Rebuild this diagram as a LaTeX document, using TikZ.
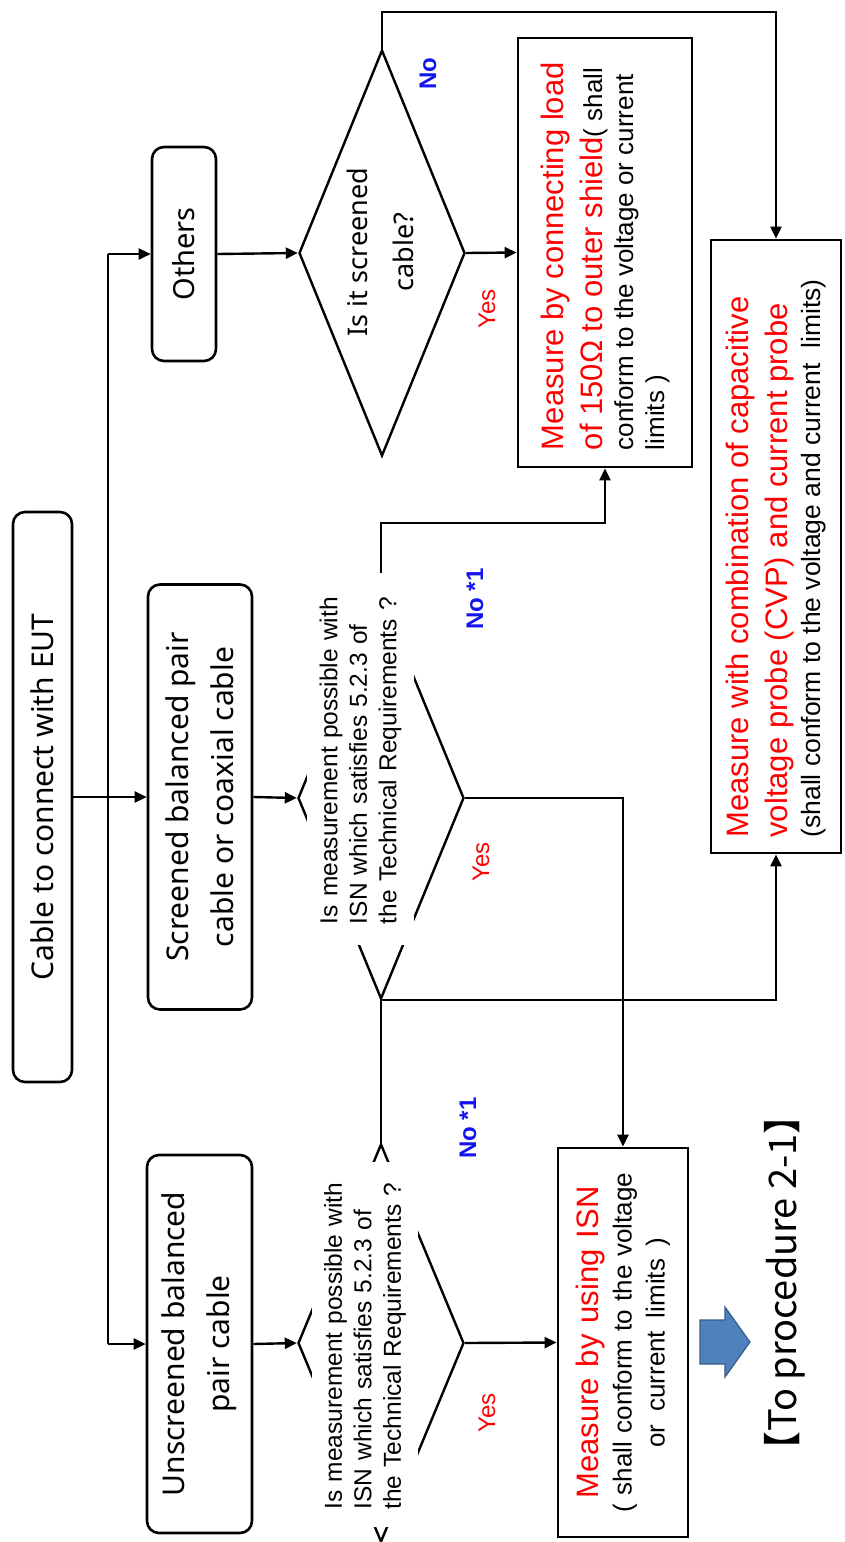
\documentclass[tikz,border=0pt]{standalone}
\usepackage{fontspec}
\setmainfont{Liberation Sans}
\newfontfamily\boxfont{Noto Sans}
\newfontfamily\cjkfont{Noto Sans CJK JP}
\usetikzlibrary{arrows.meta,shapes.geometric}
\definecolor{lblred}{RGB}{255,0,0}
\definecolor{lblblue}{RGB}{20,20,240}
\definecolor{arrowfill}{RGB}{79,129,189}
\definecolor{arrowedge}{RGB}{56,93,138}
% let interword spaces follow the font in force
\newcommand{\natspaces}{\spaceskip=0pt\xspaceskip=0pt\relax}

\begin{document}
\begin{tikzpicture}[x=1pt,y=-1pt,
  conn/.style={line width=2.4pt,-{Triangle[length=12pt,width=11pt]}},
  wire/.style={line width=2.4pt},
  rbox/.style={draw,line width=2.6pt,rounded corners=12pt,rotate=90,align=center,
    inner sep=0pt,font=\boxfont\fontsize{30}{45}\selectfont},
  sbox/.style={draw,line width=2.8pt,rotate=90,inner sep=0pt,font=\fontsize{26}{33}\selectfont},
  dia/.style={draw,diamond,line width=2.4pt,inner sep=0pt},
  quest/.style={fill=white,rotate=90,inner sep=0pt,align=left,
    font=\fontsize{24.5}{29.5}\selectfont},
  yeslbl/.style={rotate=90,text=lblred,font=\fontsize{24}{28}\selectfont},
  nolbl/.style={rotate=90,text=lblblue,font=\bfseries\fontsize{24}{28}\selectfont},
]
\fill[white] (0,0) rectangle (845,1542);
\useasboundingbox (0,0) rectangle (845,1542);

% cable categories
\node[rbox,minimum width=570pt,minimum height=59pt] (cable) at (42.5,797) {Cable to connect with EUT};
\node[rbox,minimum width=214pt,minimum height=64pt,font=\boxfont\fontsize{29}{45}\selectfont] (others) at (184,254) {Others};
\node[rbox,minimum width=425pt,minimum height=104pt] (screened) at (200,797) {Screened balanced pair\\cable or coaxial cable};
\node[rbox,minimum width=378pt,minimum height=105pt] (unscr) at (199.5,1344) {Unscreened balanced\\pair cable};

% decisions
\node[dia,minimum width=166pt,minimum height=406pt] (d1) at (382,253) {};
\node[dia,minimum width=166pt,minimum height=402pt] (d2) at (381,798) {};
\node[dia,minimum width=166pt,minimum height=398pt] (d3) at (381,1343) {};
\node[rotate=90,align=center,font=\boxfont\fontsize{27}{46}\selectfont] (d1q) at (380,252) {Is it screened\\cable?};

% measurement boxes
\node[sbox,minimum width=429pt,minimum height=174pt,text width=395pt,align=left] (m150) at (605,252.5)
 {\natspaces{\color{lblred}\fontsize{31}{39}\selectfont Measure by connecting load\par
   of 150Ω to outer shield{\color{black}\fontsize{26}{31}\selectfont( shall}\par}%
  {\fontsize{26}{31}\selectfont conform to the voltage or current\par limits )\par}\vspace*{18pt}};
\node[sbox,minimum width=613pt,minimum height=130pt,text width=582pt,align=left] (cvp) at (776,546.5)
 {\natspaces{\color{lblred}\fontsize{31}{39}\selectfont Measure with combination of capacitive\par
   voltage probe (CVP) and current probe\par}%
  {\fontsize{26.5}{33}\selectfont (shall conform to the voltage and current\ \ limits)\par}};
\node[sbox,minimum width=389pt,minimum height=130pt,text width=370pt,align=center] (isn) at (623,1342.5)
 {\natspaces{\color{lblred}\fontsize{31}{39}\selectfont Measure by using ISN\par}%
  {\fontsize{26}{33}\selectfont ( shall conform to the voltage\par or current\ limits )\par}};

% connectors
\coordinate (trunkTop) at (108,254);
\coordinate (trunkBot) at (108,1344);
\coordinate (railTop) at (0,12);
\coordinate (railMid) at (0,523);
\draw[wire] (trunkTop) -- (trunkBot);
\draw[conn] (trunkTop) -- (others.north);
\draw[conn] (trunkBot) -- (unscr.north);
\draw[conn] (cable.south) -- (screened.north);
\draw[conn] (others.south) -- (d1.west);
\draw[conn] (screened.south) -- (d2.west);
\draw[conn] (unscr.south) -- (d3.west);
\draw[conn] (d1.east) -- (m150.north);
\draw[conn] (d1.north) |- (railTop -| cvp.east) -- (cvp.east);
\draw[conn] (d2.north) |- (railMid -| m150.west) -- (m150.west);
\draw[conn] (d2.east) -| (isn.east);
\draw[conn] (d2.south) -| (cvp.west);
\draw[wire] (d3.north) -- (d2.south);
\draw[conn] (d3.east) -- (isn.north);

% question texts over the decision outlines
\node[quest,text width=330pt,minimum width=372pt,minimum height=107pt] (d2q) at (360.5,759)
 {Is measurement possible with\\ISN which satisfies 5.2.3 of\\the Technical Requirements ?};
\node[quest,text width=330pt,minimum width=365pt,minimum height=106pt] (d3q) at (365,1344.5)
 {Is measurement possible with\\ISN which satisfies 5.2.3 of\\the Technical Requirements ?};

% branch labels
\node[nolbl] (no1) at (428,74) {No};
\node[yeslbl] (yes1) at (487,309) {Yes};
\node[nolbl] (no2) at (475,599) {No *1};
\node[yeslbl] (yes2) at (481,862) {Yes};
\node[nolbl] (no3) at (468,1128) {No *1};
\node[yeslbl] (yes3) at (487,1413) {Yes};

% next step
\draw[fill=arrowfill,draw=arrowedge,line width=1.2pt]
  (700,1320) -- (725,1320) -- (725,1307) -- (750,1342) -- (725,1377) -- (725,1364) -- (700,1364) -- cycle;
\node[rotate=90,font=\cjkfont\fontsize{38}{40}\selectfont] (proc) at (785,1283) {【To procedure 2-1】};
\end{tikzpicture}
\end{document}
